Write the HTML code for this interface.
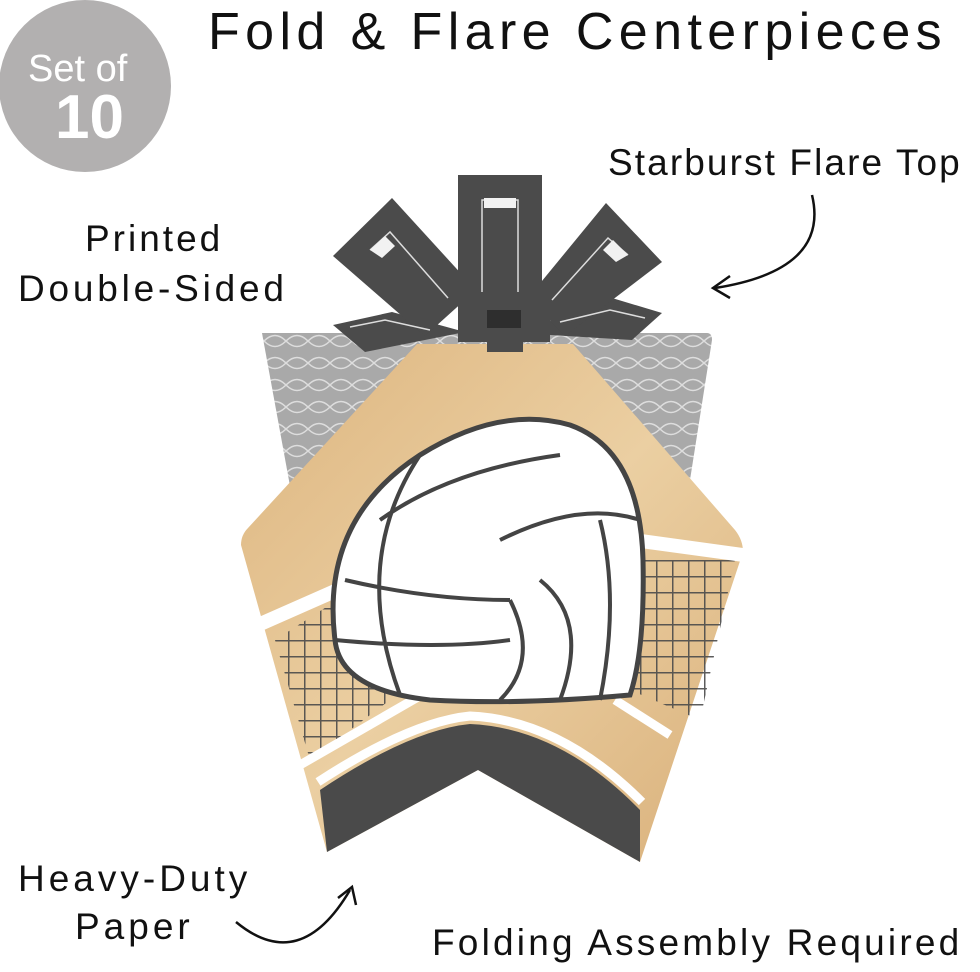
<!DOCTYPE html>
<html><head><style>
body{margin:0;background:#fff;width:980px;height:972px;overflow:hidden;position:relative;font-family:"Liberation Sans",sans-serif;color:#111}
.t{position:absolute;white-space:nowrap}
</style></head><body>
<svg width="980" height="972" style="position:absolute;left:0;top:0">
<defs>
<linearGradient id="wood" x1="0" y1="0" x2="1" y2="1">
<stop offset="0" stop-color="#ddb57f"/><stop offset="0.5" stop-color="#ebcfa2"/><stop offset="1" stop-color="#d9b07a"/></linearGradient>
<pattern id="net" width="22" height="22" patternUnits="userSpaceOnUse"><rect width="22" height="22" fill="#a9a9a9"/><path d="M0 11 Q11 0 22 11 M0 11 Q11 22 22 11" stroke="#ddd" stroke-width="1.5" fill="none"/></pattern>
<pattern id="cnet" width="16" height="16" patternUnits="userSpaceOnUse"><path d="M0 0 L16 0 M0 0 L0 16" stroke="#4a4a4a" stroke-width="3"/></pattern>
</defs>
<circle cx="85" cy="86" r="86" fill="#b2b0b0"/>
<path d="M262 333 L707 333 Q712 333 712 340 L690 480 L290 486 Z" fill="url(#net)"/>
<path d="M417 344 L573 344 L735 530 Q743 540 743 552 L640 862 L478 770 L327 852 L241 545 Q241 535 248 528 Z" fill="url(#wood)"/>
<path d="M275 640 L345 595 L390 700 L310 760 Z" fill="url(#cnet)" opacity="0.9"/>
<path d="M625 560 L735 560 L700 720 L630 690 Z" fill="url(#cnet)" opacity="0.9"/>
<path d="M258 625 L360 580 M560 530 L743 555" stroke="#fff" stroke-width="14"/>
<path d="M300 765 L425 693 M615 700 L670 735" stroke="#fff" stroke-width="9" fill="none"/>
<path d="M320 790 Q410 730 470 724 Q560 728 640 810 L640 862 L478 770 L327 852 Z" fill="#4a4a4a"/>
<path d="M318 782 Q410 722 470 716 Q560 720 642 802" stroke="#fff" stroke-width="9" fill="none"/>
<path d="M335 640 Q320 520 420 455 Q500 405 570 425 Q640 450 643 560 Q645 650 630 695 Q520 705 430 700 Q340 690 335 640 Z" fill="#fff" stroke="#444" stroke-width="5"/>
<path d="M345 580 Q430 600 510 600 M335 640 Q440 650 510 640 M380 520 Q450 470 560 455 M420 455 Q350 560 400 695 M510 600 Q540 660 500 700 M500 540 Q580 500 640 520 M540 580 Q590 620 560 700 M600 520 Q620 600 600 700" stroke="#444" stroke-width="4" fill="none"/>
<!-- starburst -->
<g fill="#4b4b4b">
<polygon points="333,325 392,312 465,332 365,352"/>
<polygon points="662,313 612,298 518,333 632,340"/>
<polygon points="333,256 392,198 476,290 425,336"/>
<polygon points="662,262 606,203 528,298 565,336"/>
<rect x="458" y="175" width="84" height="130"/>
<rect x="458" y="300" width="92" height="42"/>
<rect x="487" y="340" width="36" height="12"/>
</g>
<g fill="none" stroke="#ddd" stroke-width="1.5">
<path d="M482 292 L482 200 L518 200 L518 292"/>
<path d="M370 250 L390 232 L448 298"/>
<path d="M628 255 L608 238 L552 300"/>
<path d="M350 327 L385 320 L430 330"/>
<path d="M645 318 L610 310 L560 322"/>
</g>
<rect x="484" y="198" width="32" height="10" fill="#f2f2f2"/>
<polygon points="370,250 385,236 395,246 382,258" fill="#f2f2f2"/>
<polygon points="628,255 613,240 603,250 616,262" fill="#f2f2f2"/>
<rect x="487" y="310" width="34" height="18" fill="#2e2e2e"/>
<!-- arrows -->
<path d="M812 195 Q830 270 715 288" stroke="#111" stroke-width="2.5" fill="none"/>
<path d="M730 276 L713 288 L730 298" stroke="#111" stroke-width="2.5" fill="none"/>
<path d="M236 922 Q300 975 350 890" stroke="#111" stroke-width="2.5" fill="none"/>
<path d="M338 898 L352 887 L356 905" stroke="#111" stroke-width="2.5" fill="none"/>
</svg>
<div class="t" style="left:28px;top:48px;font-size:38px;color:#fff">Set of</div>
<div class="t" style="left:55px;top:82px;font-size:62px;color:#fff;font-weight:bold">10</div>
<div class="t" style="left:208px;top:2px;font-size:52px;letter-spacing:5.4px">Fold &amp; Flare Centerpieces</div>
<div class="t" style="left:608px;top:142px;font-size:37px;letter-spacing:2.1px">Starburst Flare Top</div>
<div class="t" style="left:85px;top:218px;font-size:37px;letter-spacing:3px">Printed</div>
<div class="t" style="left:18px;top:268px;font-size:37px;letter-spacing:3.8px">Double-Sided</div>
<div class="t" style="left:18px;top:858px;font-size:37px;letter-spacing:4px">Heavy-Duty</div>
<div class="t" style="left:75px;top:906px;font-size:37px;letter-spacing:4px">Paper</div>
<div class="t" style="left:432px;top:922px;font-size:37px;letter-spacing:3.2px">Folding Assembly Required</div>
</body></html>
